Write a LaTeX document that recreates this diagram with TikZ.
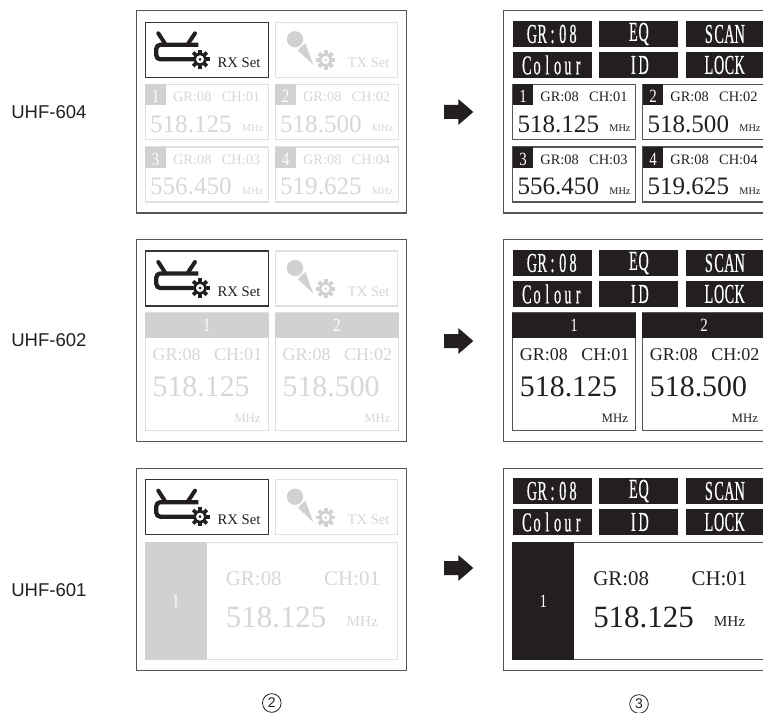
\documentclass[tikz,border=0pt]{standalone}
\usepackage{fontspec}
\setmainfont{Liberation Serif}
\newfontfamily\condfont[FakeStretch=0.52,FakeBold=0.4]{Liberation Serif}
\newfontfamily\digfont[FakeStretch=0.8]{Liberation Serif}
\newfontfamily\sansfnt{Liberation Sans}
\definecolor{ink}{HTML}{231F20}
\definecolor{darkframe}{HTML}{555555}
\definecolor{offtext}{HTML}{D6D7D8}
\definecolor{offframe}{HTML}{DEDFE0}
\definecolor{offtab}{HTML}{CFD1D2}
\newcommand\fsz[1]{\fontsize{#1}{#1}\selectfont}
\newcommand\seton{\colorlet{txt}{ink}\colorlet{frm}{darkframe}\colorlet{tabc}{ink}}
\newcommand\setoff{\colorlet{txt}{offtext}\colorlet{frm}{offframe}\colorlet{tabc}{offtab}}
\makeatletter
\def\mono@i#1{\ifx#1\relax\else\makebox[7.7pt]{#1}\expandafter\mono@i\fi}
\newcommand\monotxt[1]{\mono@i#1\relax}
\makeatother
\newcount\uid
\newcommand\nextid{\global\advance\uid by 1\relax}
\tikzset{
  x=0.75pt,y=-0.75pt,
  lbl/.style={inner sep=0,anchor=base west,text=txt},
  lble/.style={inner sep=0,anchor=base east,text=txt},
  tabn/.style={inner sep=0,anchor=base,text=white,font=\digfont\fsz{14}},
  outer/.style={draw=darkframe,line width=0.9pt},
  btn/.style={fill=ink,draw=none,text=white,inner sep=0,font=\condfont\fsz{20.5}},
  sidelbl/.style={inner sep=0,anchor=west,font=\sansfnt\fsz{13.9},text=ink},
  circnum/.style={circle,draw=ink,line width=0.6pt,inner sep=0,minimum size=14pt,font=\sansfnt\fsz{10.5},text=ink},
  arrowblk/.style={fill=ink,draw=none},
}
% gear at current origin
\newcommand\gear[3]{% x y colour
  \begin{scope}[shift={(#1,#2)}]
    \foreach \a in {0,45,...,315}{\fill[#3,rotate=\a] (-1.9,-9.6) rectangle (1.9,-5);}
    \draw[#3,line width=2.0pt] (0,0) circle (5.6);
    \fill[#3] (0,0) circle (1.5);
  \end{scope}}
% the icon row: #1 = top of the row of boxes
\newcommand\iconrow[1]{%
  \begin{scope}[shift={(145.3,#1)}]
    \draw[draw=ink!90!white,line width=0.85pt,fill=white] (0,0) rectangle (123,55);
    \draw[ink,line width=3pt,line cap=round,line join=round]
      (13,11)--(19.5,21) (49.7,11)--(43,21);
    \draw[ink,line width=3.2pt,rounded corners=3pt] (53,22.5)--(11,22.5)--(11,37)--(48,37);
    \gear{54.7}{37}{ink}
    \node[lbl,text=ink,font=\fsz{11}] (rxlbl#1) at (72,45) {RX Set};
  \end{scope}
  \begin{scope}[shift={(275.3,#1)}]
    \draw[draw=offframe,line width=0.85pt] (0,0) rectangle (122.4,55);
    \fill[offtab] (19.7,17) circle (8.2);
    \fill[offtab] (22.5,28)--(30,20.8)--(38,42.5)--cycle;
    \gear{50.3}{37.7}{offtab}
    \node[lbl,text=offtext,font=\fsz{11}] (txlbl#1) at (72,45) {TX Set};
  \end{scope}}
% the six buttons
\newcommand\buttons[1]{%
  \begin{scope}[shift={(0,#1)}]
    \node[btn,minimum width=59.25pt,minimum height=19.2pt] (bgr#1) at (552.5,13) {\monotxt{GR:08}};
    \node[btn,minimum width=59.25pt,minimum height=19.2pt] (beq#1) at (638.5,13) {\monotxt{EQ}};
    \node[btn,minimum width=60pt,minimum height=19.2pt,anchor=west] (bsc#1) at (686,13) {\hspace*{13pt}\monotxt{SCAN}\hspace*{16pt}};
    \node[btn,minimum width=59.25pt,minimum height=19.2pt] (bco#1) at (552.5,44) {\monotxt{Colour}};
    \node[btn,minimum width=59.25pt,minimum height=19.2pt] (bid#1) at (638.5,44) {\monotxt{ID}};
    \node[btn,minimum width=60pt,minimum height=19.2pt,anchor=west] (blo#1) at (686,44) {\hspace*{13pt}\monotxt{LOCK}\hspace*{16pt}};
  \end{scope}}
% small four-channel box: x y number ch freq
\newcommand\chsmall[5]{%
  \nextid
  \begin{scope}[shift={(#1,#2)},name prefix=s\the\uid-]
    \draw[draw=frm,line width=0.85pt] (0,0) rectangle (123,55);
    \fill[tabc] (0,0) rectangle (20.7,21);
    \node[tabn] (num) at (10.4,18.5) {#3};
    \node[lbl,font=\fsz{10.8}] (gr) at (27.5,17.6) {GR:08};
    \node[lbl,font=\fsz{10.8}] (ch) at (76.2,17.6) {#4};
    \node[lbl,font=\fsz{18.8}] (fq) at (4.6,48) {#5};
    \node[lbl,font=\fsz{7.7}] (mhz) at (96.4,47.6) {MHz};
  \end{scope}}
% medium two-channel box: x y number ch freq
\newcommand\chmed[5]{%
  \nextid
  \begin{scope}[shift={(#1,#2)},name prefix=m\the\uid-]
    \draw[draw=frm,line width=0.85pt] (0,0) rectangle (123,117.3);
    \fill[tabc] (-0.4,-0.4) rectangle (123.4,25);
    \node[tabn] (num) at (61.5,18.8) {#3};
    \node[lbl,font=\fsz{13.5}] (gr) at (7,47.3) {GR:08};
    \node[lbl,font=\fsz{13.5}] (ch) at (68.5,47.3) {#4};
    \node[lbl,font=\fsz{22.4}] (fq) at (7,83.3) {#5};
    \node[lble,font=\fsz{9.6}] (mhz) at (115.6,109) {MHz};
  \end{scope}}
% large one-channel box: x y width
\newcommand\chlarge[3]{%
  \nextid
  \begin{scope}[shift={(#1,#2)},name prefix=l\the\uid-]
    \draw[draw=frm,line width=0.85pt] (0,0) rectangle (#3,117);
    \fill[tabc] (-0.4,-0.4) rectangle (61.4,117.4);
    \node[tabn] (num) at (30.6,65.3) {1};
    \node[lbl,font=\fsz{15.7}] (gr) at (80.3,43.4) {GR:08};
    \node[lbl,font=\fsz{15.7}] (ch) at (178.6,43.4) {CH:01};
    \node[lbl,font=\fsz{23.2}] (fq) at (80.3,85) {518.125};
    \node[lbl,font=\fsz{11.4}] (mhz) at (201,84.4) {MHz};
  \end{scope}}
\newcommand\blockarrow[1]{%
  \fill[arrowblk,shift={(0,#1)}] (444,-7)--(458.3,-7)--(458.3,-13)--(473.3,0)--(458.3,13)--(458.3,7)--(444,7)--cycle;}
\begin{document}
\begin{tikzpicture}
\useasboundingbox (0,0) rectangle (763,713);
\clip (0,0) rectangle (763,713);
\fill[white] (0,0) rectangle (763,713);
% ---------- left panels
\draw[outer] (136.7,10.5) rectangle (406.7,213);
\draw[outer] (136.7,239.5) rectangle (406.7,441.3);
\draw[outer] (136.7,468.4) rectangle (406.7,670.5);
% ---------- right panels (run off the right edge)
\draw[outer] (770,10.5)--(503.7,10.5)--(503.7,213)--(770,213);
\draw[outer] (770,239.5)--(503.7,239.5)--(503.7,441.3)--(770,441.3);
\draw[outer] (770,468.4)--(503.7,468.4)--(503.7,670.5)--(770,670.5);
% ---------- icons
\iconrow{22.3}
\iconrow{251}
\iconrow{479.7}
% ---------- UHF-604
\setoff
\chsmall{145.3}{84.3}{1}{CH:01}{518.125}
\chsmall{275.3}{84.3}{2}{CH:02}{518.500}
\chsmall{145.3}{147}{3}{CH:03}{556.450}
\chsmall{275.3}{147}{4}{CH:04}{519.625}
\seton
\buttons{21}
\chsmall{512.7}{84.3}{1}{CH:01}{518.125}
\chsmall{642.7}{84.3}{2}{CH:02}{518.500}
\chsmall{512.7}{147}{3}{CH:03}{556.450}
\chsmall{642.7}{147}{4}{CH:04}{519.625}
% ---------- UHF-602
\setoff
\chmed{145.3}{313}{1}{CH:01}{518.125}
\chmed{275.3}{313}{2}{CH:02}{518.500}
\seton
\buttons{250}
\chmed{512.7}{313}{1}{CH:01}{518.125}
\chmed{642.7}{313}{2}{CH:02}{518.500}
% ---------- UHF-601
\setoff
\chlarge{145.3}{542.3}{252.4}
\seton
\buttons{478}
\chlarge{512.7}{542.3}{260}
% ---------- arrows
\blockarrow{112}
\blockarrow{341}
\blockarrow{568}
% ---------- side labels
\node[sidelbl] (u604) at (11,112.5) {UHF-604};
\node[sidelbl] (u602) at (11,340.5) {UHF-602};
\node[sidelbl] (u601) at (11,590.5) {UHF-601};
\node[circnum] (c2) at (271.8,703) {2};
\node[circnum] (c3) at (639,704) {3};
\end{tikzpicture}
\end{document}
